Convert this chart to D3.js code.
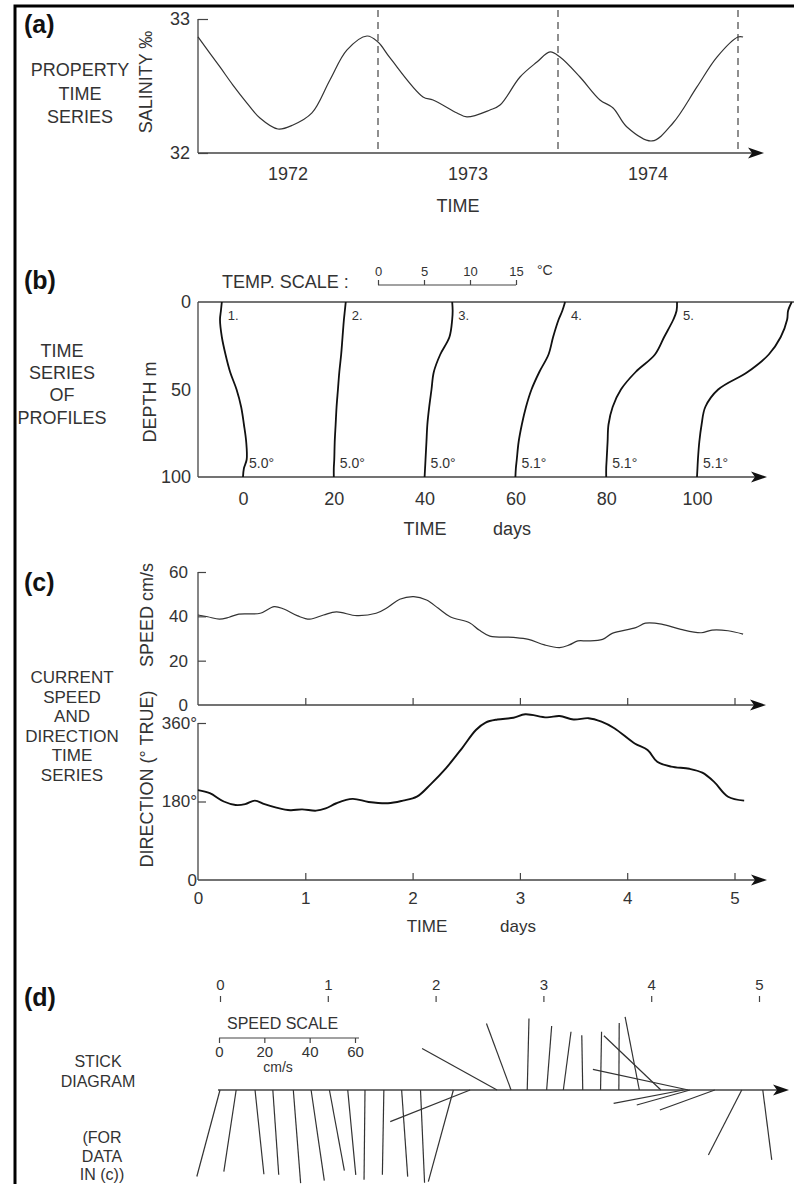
<!DOCTYPE html>
<html>
<head>
<meta charset="utf-8">
<script src="https://cdn.jsdelivr.net/npm/d3@7"></script>
<style>
  body { margin: 0; background: #fff; }
  svg text { font-family: "Liberation Sans", Arial, sans-serif; fill: #333; }
</style>
</head>
<body>
<svg id="fig"></svg>
<script>
// ---------- (a) salinity time series ----------
var salTime = [1972.000, 1972.122, 1972.194, 1972.272, 1972.344, 1972.444, 1972.528, 1972.633,
  1972.733, 1972.828, 1972.939, 1973.000, 1973.067, 1973.250, 1973.306, 1973.439, 1973.494,
  1973.622, 1973.678, 1973.789, 1973.883, 1973.956, 1974.011, 1974.122, 1974.233, 1974.306,
  1974.383, 1974.522, 1974.639, 1974.772, 1974.883, 1975.000, 1975.028];
var salValue = [32.866, 32.642, 32.507, 32.373, 32.261, 32.179, 32.209, 32.299,
  32.545, 32.769, 32.873, 32.828, 32.709, 32.418, 32.396, 32.299, 32.269,
  32.321, 32.358, 32.567, 32.679, 32.754, 32.716, 32.567, 32.396, 32.336,
  32.194, 32.090, 32.224, 32.493, 32.716, 32.866, 32.866];
var yearNames = ["1972", "1973", "1974"];
var yearBreaks = [1973, 1974, 1975];

// ---------- (b) time series of profiles ----------
var profileDays = [0, 20, 40, 60, 80, 100];
var profileNames = ["1.", "2.", "3.", "4.", "5.", ""];
var profileDepths = [0, 5, 10, 20, 30, 40, 50, 60, 70, 80, 90, 95, 100];
var profile1 = [2.7, 2.6, 2.5, 2.7, 3.1, 3.6, 4.3, 4.8, 5.1, 5.35, 5.4, 5.1, 5.0];
var profile2 = [6.3, 6.2, 6.1, 5.95, 5.8, 5.6, 5.45, 5.3, 5.2, 5.1, 5.05, 5.0, 5.0];
var profile3 = [8.0, 8.05, 8.0, 7.7, 6.7, 6.0, 5.75, 5.5, 5.3, 5.2, 5.1, 5.05, 5.0];
var profile4 = [10.5, 10.2, 9.8, 9.2, 8.7, 7.7, 6.85, 6.25, 5.8, 5.45, 5.25, 5.15, 5.1];
var profile5 = [12.8, 12.75, 12.4, 11.4, 10.4, 8.3, 6.7, 5.8, 5.35, 5.25, 5.15, 5.1, 5.1];
var profile6 = [15.4, 15.0, 14.9, 14.2, 12.9, 10.6, 7.4, 6.0, 5.6, 5.35, 5.2, 5.15, 5.1];
var profiles = [profile1, profile2, profile3, profile4, profile5, profile6];
var tempTicks = [0, 5, 10, 15];
var depthTicks = [0, 50, 100];
var dayTicks = [0, 20, 40, 60, 80, 100];

// ---------- (c) current speed and direction ----------
var speedDay = [0.00, 0.09, 0.20, 0.29, 0.38, 0.58, 0.71, 0.80, 0.93, 1.04, 1.17, 1.29, 1.48,
  1.66, 1.77, 1.88, 2.01, 2.13, 2.24, 2.35, 2.53, 2.62, 2.72, 2.94, 3.08, 3.23, 3.37, 3.46,
  3.54, 3.63, 3.77, 3.86, 4.08, 4.17, 4.32, 4.50, 4.69, 4.79, 4.94, 5.08];
var speedValue = [40.6, 39.8, 38.7, 39.6, 41.0, 41.4, 44.4, 43.3, 40.2, 38.7, 40.6, 42.0, 40.3,
  41.4, 44.1, 47.7, 48.9, 47.4, 43.6, 39.8, 37.1, 33.8, 31.1, 30.5, 29.6, 27.1, 25.9, 27.1,
  28.9, 28.9, 29.6, 32.3, 34.9, 36.9, 36.5, 34.1, 32.6, 33.8, 33.5, 32.0];
var dirDay = [0.00, 0.11, 0.24, 0.35, 0.44, 0.53, 0.62, 0.73, 0.86, 0.97, 1.10, 1.19, 1.29,
  1.44, 1.59, 1.77, 1.91, 2.04, 2.17, 2.31, 2.46, 2.59, 2.68, 2.79, 2.94, 3.05, 3.25, 3.37,
  3.50, 3.64, 3.76, 3.88, 4.07, 4.19, 4.28, 4.41, 4.58, 4.70, 4.81, 4.94, 5.09];
var dirValue = [206, 199, 180, 172, 174, 182, 174, 166, 160, 162, 159, 164, 176,
  186, 179, 176, 182, 191, 220, 256, 302, 344, 361, 368, 372, 380, 373, 376,
  368, 371, 363, 348, 313, 298, 271, 260, 255, 246, 225, 191, 182];
var speedTicks = [0, 20, 40, 60];
var dirTicks = [0, 180, 360];
var dirTickNames = ["0", "180°", "360°"];
var timeTicks = [0, 1, 2, 3, 4, 5];

// ---------- (d) stick diagram ----------
var stickDay = [0.00, 0.15, 0.325, 0.49, 0.68, 0.845, 1.015, 1.185, 1.345, 1.52, 1.685, 1.86,
  2.165, 2.32, 2.57, 2.70, 2.85, 3.03, 3.185, 3.365, 3.53, 3.70, 3.89, 4.09, 4.30, 4.345,
  4.36, 4.59, 4.84, 5.035];
var stickSpeed = [39.5, 36.4, 37.4, 37.5, 41.2, 40.4, 36.2, 37.6, 39.6, 37.4, 38.3, 41.0,
  41.9, 37.9, 37.8, 31.3, 31.6, 28.3, 25.9, 24.2, 25.7, 29.6, 32.9, 34.7, 31.4, 43.1,
  24.4, 25.8, 32.2, 31.1];
var stickDir = [195, 188.6, 174, 176, 175.5, 171.7, 169.5, 174.6, 180.6, 181, 176, 177.5,
  195.3, 248.4, 299, 339.7, 1.4, 4.5, 7.5, 359, 1, 0.3, 349, 313.6, 259.2, 282.2,
  254.3, 250, 207.2, 172.7];
var speedScaleTicks = [0, 20, 40, 60];

// ================= drawing =================
var svg = d3.select("#fig").attr("width", 794).attr("height", 1184);
var axisColor = "#444";

function label(g, txt, x, y, size, anchor, rot) {
  var t = g.append("text").attr("x", x).attr("y", y)
    .attr("font-size", size).attr("text-anchor", anchor || "middle").text(txt);
  if (rot) t.attr("transform", "rotate(-90," + x + "," + y + ")");
  return t;
}
function block(g, lines, x, y0, step, size) {
  lines.forEach(function(s, i) { label(g, s, x, y0 + i * step, size); });
}
function arrowLine(g, x1, x2, y) {
  g.append("line").attr("x1", x1).attr("x2", x2 - 8).attr("y1", y).attr("y2", y)
    .attr("stroke", axisColor).attr("stroke-width", 1.3);
  g.append("path")
    .attr("d", "M" + x2 + "," + y + "L" + (x2 - 16) + "," + (y - 5.5) + "L" + (x2 - 12) + "," + y +
      "L" + (x2 - 16) + "," + (y + 5.5) + "Z")
    .attr("fill", "#111");
}
function vline(g, x, y1, y2) {
  g.append("line").attr("x1", x).attr("x2", x).attr("y1", y1).attr("y2", y2)
    .attr("stroke", axisColor).attr("stroke-width", 1.3);
}
function styleAxis(sel, size) {
  sel.select(".domain").remove();
  sel.selectAll(".tick line").attr("stroke", axisColor).attr("stroke-width", 1.2);
  sel.selectAll(".tick text").attr("font-size", size).attr("fill", "#333")
    .attr("font-family", "'Liberation Sans', Arial, sans-serif");
}

// frame
svg.append("path").attr("d", "M15,1184L15,6L794,6").attr("fill", "none")
  .attr("stroke", "#000").attr("stroke-width", 3);

// panel letters
[["(a)", 33], ["(b)", 289], ["(c)", 591], ["(d)", 1006]].forEach(function(p) {
  label(svg, p[0], 24, p[1], 25, "start").attr("font-weight", "bold").style("fill", "#111");
});

// ---------- (a) ----------
var gA = svg.append("g");
var xA = d3.scaleLinear().domain([1972, 1975]).range([198, 738]);
var yA = d3.scaleLinear().domain([32, 33]).range([153, 19]);

gA.selectAll(".yr").data(yearBreaks).enter().append("line")
  .attr("x1", function(d) { return xA(d); }).attr("x2", function(d) { return xA(d); })
  .attr("y1", 10).attr("y2", 153)
  .attr("stroke", "#333").attr("stroke-width", 1.1).attr("stroke-dasharray", "7,5");

gA.append("g").attr("transform", "translate(198,0)")
  .call(d3.axisLeft(yA).tickValues([32, 33]).tickSize(-10).tickPadding(8).tickFormat(d3.format("d")))
  .call(styleAxis, 18);
vline(gA, 198, 19, 153);
arrowLine(gA, 198, 764, 153);

gA.selectAll(".yl").data(yearNames).enter().append("text")
  .attr("x", function(d, i) { return (xA(1972 + i) + xA(1973 + i)) / 2; })
  .attr("y", 180).attr("font-size", 18).attr("text-anchor", "middle")
  .text(function(d) { return d; });
label(gA, "TIME", 458, 212, 18);
label(gA, "SALINITY ‰", 152, 82, 18, "middle", true);
block(gA, ["PROPERTY", "TIME", "SERIES"], 80, 76, 23.5, 18);

gA.append("path")
  .datum(salTime.map(function(t, i) { return [t, salValue[i]]; }))
  .attr("d", d3.line().x(function(d) { return xA(d[0]); }).y(function(d) { return yA(d[1]); })
    .curve(d3.curveCatmullRom))
  .attr("fill", "none").attr("stroke", "#333").attr("stroke-width", 1.2);

// ---------- (b) ----------
var gB = svg.append("g");
var xB = d3.scaleLinear().domain([0, 100]).range([243, 697]);
var yB = d3.scaleLinear().domain([0, 100]).range([302, 477]);
var tB = d3.scaleLinear().domain([0, 15]).range([378, 516]);

label(gB, "TEMP. SCALE :", 222, 288, 18, "start");
gB.append("g").attr("transform", "translate(0,285)")
  .call(d3.axisTop(tB).tickValues(tempTicks).tickSize(5).tickPadding(4))
  .call(styleAxis, 13);
gB.append("line").attr("x1", tB(0)).attr("x2", tB(15)).attr("y1", 285).attr("y2", 285)
  .attr("stroke", axisColor).attr("stroke-width", 1.2);
label(gB, "°C", 537, 275, 14, "start");

gB.append("line").attr("x1", 198).attr("x2", 794).attr("y1", yB(0)).attr("y2", yB(0))
  .attr("stroke", axisColor).attr("stroke-width", 1.3);
vline(gB, 198, yB(0), yB(100));
arrowLine(gB, 198, 767, yB(100));

gB.append("g").attr("transform", "translate(198,0)")
  .call(d3.axisLeft(yB).tickValues(depthTicks).tickSize(0).tickPadding(7))
  .call(styleAxis, 18);
gB.append("g").attr("transform", "translate(0," + yB(100) + ")")
  .call(d3.axisBottom(xB).tickValues(dayTicks).tickSize(0).tickPadding(15))
  .call(styleAxis, 18);
label(gB, "TIME", 425, 535, 18);
label(gB, "days", 512, 535, 18);
label(gB, "DEPTH m", 156, 402, 18, "middle", true);
block(gB, ["TIME", "SERIES", "OF", "PROFILES"], 62, 357, 22.2, 18);

var profLine = d3.line().curve(d3.curveCatmullRom);
profiles.forEach(function(temps, k) {
  var bottomT = temps[temps.length - 1];
  var px = function(T) { return xB(profileDays[k]) + tB(T) - tB(bottomT); };
  gB.append("path")
    .attr("d", profLine(profileDepths.map(function(dep, i) { return [px(temps[i]), yB(dep)]; })))
    .attr("fill", "none").attr("stroke", "#111").attr("stroke-width", 1.8);
  label(gB, profileNames[k], px(temps[0]) + 6, 320, 13, "start");
  label(gB, d3.format(".1f")(bottomT) + "°", px(bottomT) + 6, 468, 14, "start");
});

// ---------- (c) ----------
var gC = svg.append("g");
var xC = d3.scaleLinear().domain([0, 5]).range([198, 734.5]);
var yS = d3.scaleLinear().domain([0, 60]).range([705, 572]);
var yD = d3.scaleLinear().domain([0, 360]).range([880, 723]);

vline(gC, 198, yS(60), yS(0));
vline(gC, 198, yD(360), yD(0));
gC.append("g").attr("transform", "translate(198,0)")
  .call(d3.axisLeft(yS).tickValues(speedTicks).tickSize(-8).tickPadding(10))
  .call(styleAxis, 17);
gC.append("g").attr("transform", "translate(198,0)")
  .call(d3.axisLeft(yD).tickValues(dirTicks).tickSize(-8).tickPadding(1)
    .tickFormat(function(d, i) { return dirTickNames[i]; }))
  .call(styleAxis, 17);
gC.selectAll(".tick").filter(function(d) { return d === 0; }).select("line").remove();

gC.append("g").attr("transform", "translate(0," + yS(0) + ")")
  .call(d3.axisTop(xC).tickValues(timeTicks.slice(1)).tickSize(7).tickFormat(""))
  .call(styleAxis, 17);
arrowLine(gC, 198, 766, yS(0));
gC.append("g").attr("transform", "translate(0," + yD(0) + ")")
  .call(d3.axisBottom(xC).tickValues(timeTicks).tickSize(-7).tickPadding(12).tickFormat(d3.format("d")))
  .call(styleAxis, 17);
gC.selectAll(".tick").filter(function(d) { return d === 0; }).select("line").remove();
arrowLine(gC, 198, 767, yD(0));

label(gC, "TIME", 427, 932, 17);
label(gC, "days", 518, 932, 17);
label(gC, "SPEED cm/s", 153, 615, 18, "middle", true);
label(gC, "DIRECTION (° TRUE)", 153, 779, 18, "middle", true);
block(gC, ["CURRENT", "SPEED", "AND", "DIRECTION", "TIME", "SERIES"], 72, 683, 19.6, 17);

gC.append("path")
  .datum(speedDay.map(function(t, i) { return [t, speedValue[i]]; }))
  .attr("d", d3.line().x(function(d) { return xC(d[0]); }).y(function(d) { return yS(d[1]); })
    .curve(d3.curveCatmullRom))
  .attr("fill", "none").attr("stroke", "#333").attr("stroke-width", 1.2);
gC.append("path")
  .datum(dirDay.map(function(t, i) { return [t, dirValue[i]]; }))
  .attr("d", d3.line().x(function(d) { return xC(d[0]); }).y(function(d) { return yD(d[1]); })
    .curve(d3.curveCatmullRom))
  .attr("fill", "none").attr("stroke", "#111").attr("stroke-width", 1.9);

// ---------- (d) ----------
var gD = svg.append("g");
var xD = d3.scaleLinear().domain([0, 5]).range([220, 759]);
var lenD = d3.scaleLinear().domain([0, 60]).range([0, 136]);
var baseY = 1090;

gD.append("g").attr("transform", "translate(0,1002)")
  .call(d3.axisTop(xD).tickValues(timeTicks).tickSize(6).tickPadding(6).tickFormat(d3.format("d")))
  .call(styleAxis, 15);

label(gD, "SPEED SCALE", 227, 1029, 16, "start");
gD.append("line").attr("x1", 219).attr("x2", 359).attr("y1", 1038).attr("y2", 1038)
  .attr("stroke", axisColor).attr("stroke-width", 1.2);
gD.append("g").attr("transform", "translate(219,1038)")
  .call(d3.axisBottom(lenD).tickValues(speedScaleTicks).tickSize(5).tickPadding(3))
  .call(styleAxis, 15);
label(gD, "cm/s", 278, 1072, 14);

block(gD, ["STICK", "DIAGRAM"], 98, 1067, 20, 16);
block(gD, ["(FOR", "DATA", "IN (c))"], 102, 1143, 18.5, 16);

arrowLine(gD, 218, 789, baseY);

gD.selectAll(".stick").data(stickDay).enter().append("line")
  .attr("x1", function(d) { return xD(d); })
  .attr("y1", baseY)
  .attr("x2", function(d, i) { return xD(d) + lenD(stickSpeed[i]) * Math.sin(stickDir[i] * Math.PI / 180); })
  .attr("y2", function(d, i) { return baseY - lenD(stickSpeed[i]) * Math.cos(stickDir[i] * Math.PI / 180); })
  .attr("stroke", "#333").attr("stroke-width", 1.2);
</script>
</body>
</html>
